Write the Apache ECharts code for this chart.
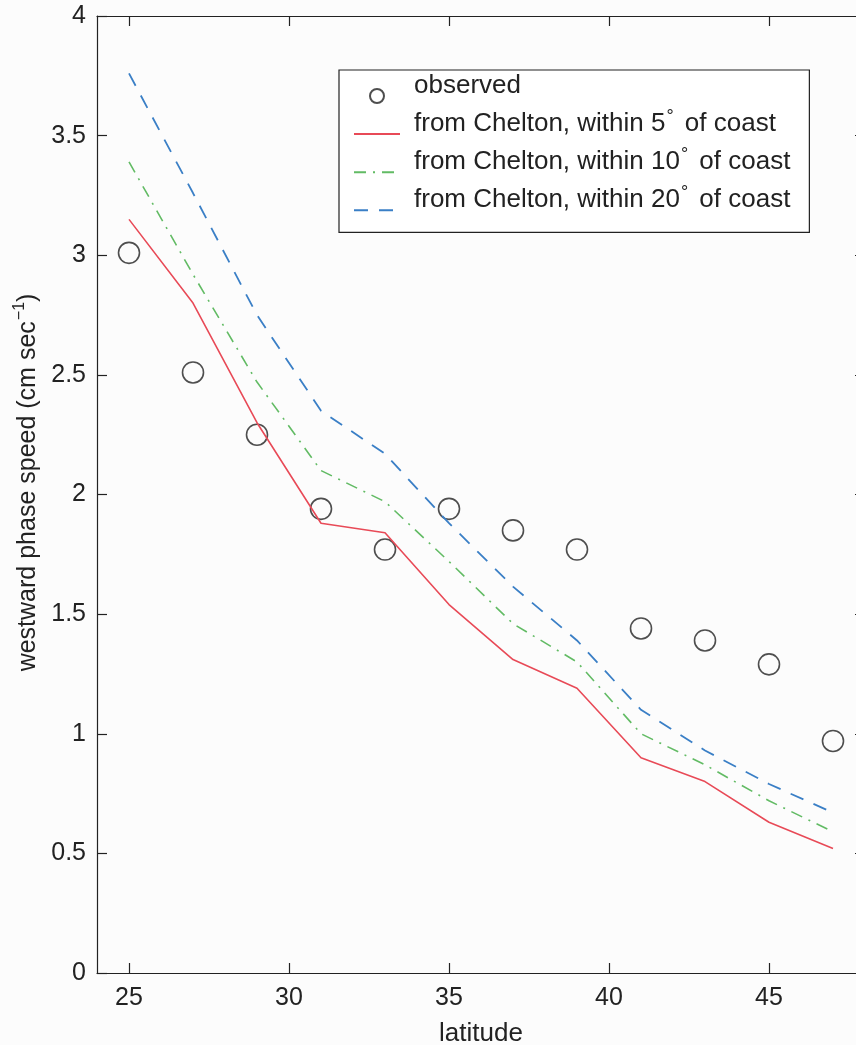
<!DOCTYPE html>
<html>
<head>
<meta charset="utf-8">
<script src="https://cdn.jsdelivr.net/npm/echarts@6/dist/echarts.min.js"></script>
<style>
html,body{margin:0;padding:0;background:#fcfcfc;}
#c{width:856px;height:1045px;}
</style>
</head>
<body>
<div id="c"></div>
<script>
const latitude = [25, 27, 29, 31, 33, 35, 37, 39, 41, 43, 45, 47];
const observed = [3.01, 2.51, 2.25, 1.94, 1.77, 1.94, 1.85, 1.77, 1.44, 1.39, 1.29, 0.97];
const chelton5 = [3.15, 2.80, 2.30, 1.88, 1.84, 1.54, 1.31, 1.19, 0.90, 0.80, 0.63, 0.52];
const chelton10 = [3.39, 2.92, 2.47, 2.10, 1.97, 1.72, 1.46, 1.30, 1.00, 0.87, 0.72, 0.59];
const chelton20 = [3.76, 3.26, 2.75, 2.35, 2.17, 1.88, 1.615, 1.39, 1.10, 0.93, 0.79, 0.67];
const xTicks = [25, 30, 35, 40, 45];
const seriesNames = ['observed', 'from Chelton, within 5° of coast', 'from Chelton, within 10° of coast', 'from Chelton, within 20° of coast'];

const FONT = 'Liberation Sans';
const pairs = arr => latitude.map((x, i) => [x, arr[i]]);

const chart = echarts.init(document.getElementById('c'), null, {renderer: 'canvas'});
const axisLine = {show: true, onZero: false, lineStyle: {color: '#222', width: 1.2}};
const tick = {show: true, inside: true, length: 10, lineStyle: {color: '#222', width: 1.2}};

chart.setOption({
  backgroundColor: '#fcfcfc',
  animation: false,
  grid: {left: 97, top: 16, width: 768, height: 957, outerBoundsMode: 'none', containLabel: false},
  legend: {
    orient: 'vertical',
    left: 339, top: 70,
    backgroundColor: '#ffffff',
    borderColor: '#222', borderWidth: 1.2, borderRadius: 0,
    padding: [3, 19, 3, 14],
    itemWidth: 46, itemHeight: 14, itemGap: -7.4,
    data: [
      {name: seriesNames[0], icon: 'circle'},
      {name: seriesNames[1], itemStyle: {opacity: 0}},
      {name: seriesNames[2], itemStyle: {opacity: 0}},
      {name: seriesNames[3], itemStyle: {opacity: 0}}
    ],
    formatter: function (name) {
      return name.replace('°', '{sup|°}');
    },
    textStyle: {
      fontFamily: FONT, fontSize: 26, color: '#222', lineHeight: 18,
      padding: [0, 0, 20, 9],
      rich: {
        sup: {fontFamily: FONT, fontSize: 18, color: '#222', padding: [0, 4, 15, 1]}
      }
    }
  },
  xAxis: [{
    type: 'value', min: 24, max: 48,
    axisLine: axisLine,
    axisTick: Object.assign({customValues: xTicks}, tick),
    axisLabel: {customValues: xTicks, fontFamily: FONT, fontSize: 25, color: '#222', margin: 13},
    splitLine: {show: false},
    name: 'latitude', nameLocation: 'middle', nameGap: 48,
    nameTextStyle: {fontFamily: FONT, fontSize: 26, color: '#222'}
  }, {
    type: 'value', min: 24, max: 48, position: 'top',
    axisLine: axisLine,
    axisTick: Object.assign({customValues: xTicks}, tick),
    axisLabel: {show: false},
    splitLine: {show: false}
  }],
  yAxis: [{
    type: 'value', min: 0, max: 4, interval: 0.5,
    axisLine: axisLine, axisTick: tick,
    axisLabel: {fontFamily: FONT, fontSize: 25, color: '#222', margin: 11},
    splitLine: {show: false},
    name: 'westward phase speed (cm sec{sup|−1})', nameLocation: 'middle', nameGap: 52, nameRotate: 90,
    nameTextStyle: {fontFamily: FONT, fontSize: 25, color: '#222', padding: [0, 0, 0, 24],
      rich: {sup: {fontFamily: FONT, fontSize: 16, color: '#222', padding: [0, 0, 16, 1]}}}
  }, {
    type: 'value', min: 0, max: 4, interval: 0.5, position: 'right',
    axisLine: axisLine, axisTick: tick,
    axisLabel: {show: false},
    splitLine: {show: false}
  }],
  series: [{
    name: seriesNames[0], type: 'scatter', data: pairs(observed),
    symbol: 'circle', symbolSize: 21,
    itemStyle: {color: 'rgba(0,0,0,0)', borderColor: '#222', borderWidth: 1.6}
  }, {
    name: seriesNames[1], type: 'line', data: pairs(chelton5),
    symbol: 'none', lineStyle: {color: '#e84a57', width: 1.6, type: 'solid'},
    itemStyle: {color: '#e84a57'}
  }, {
    name: seriesNames[2], type: 'line', data: pairs(chelton10),
    symbol: 'none', lineStyle: {color: '#62bb64', width: 1.6, type: [12, 7, 2, 7]},
    itemStyle: {color: '#62bb64'}
  }, {
    name: seriesNames[3], type: 'line', data: pairs(chelton20),
    symbol: 'none', lineStyle: {color: '#3a7fc6', width: 1.8, type: [14, 11]},
    itemStyle: {color: '#3a7fc6'}
  }]
});
</script>
</body>
</html>
